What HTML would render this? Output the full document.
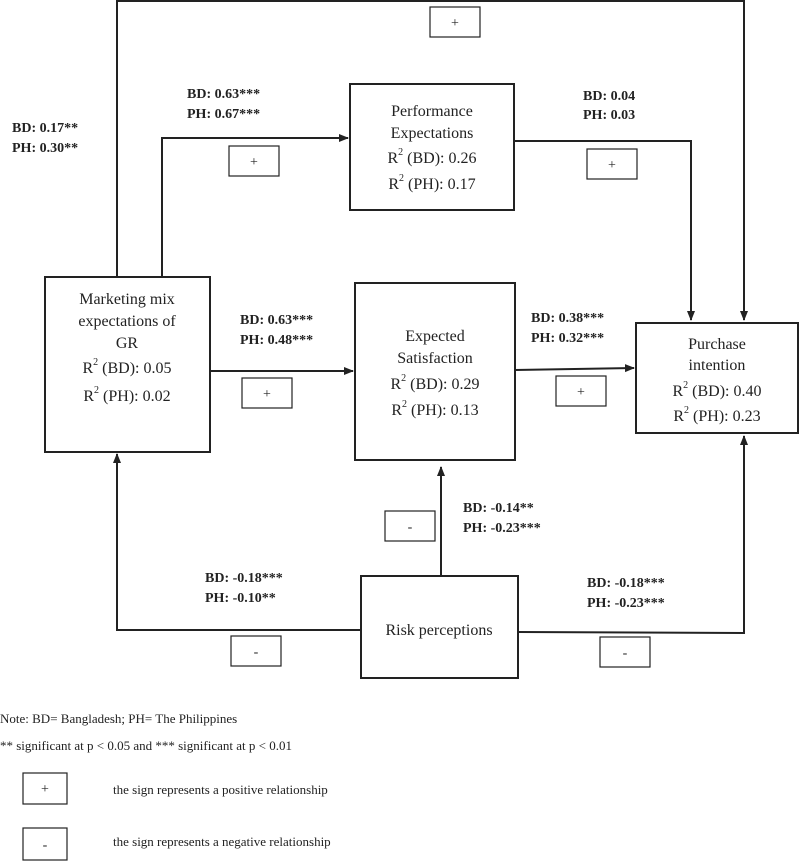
<!DOCTYPE html>
<html><head><style>body{margin:0;background:#fff}svg{display:block}
text{font-family:"Liberation Serif",serif;fill:#222}
.b{font-weight:bold;font-size:14px}
.n{font-size:16px;text-anchor:middle}
.s{font-size:14px;text-anchor:middle}
.l{font-size:13px}
</style></head><body>
<svg width="800" height="861" viewBox="0 0 800 861">
<defs><marker id="a" markerWidth="10" markerHeight="10" refX="9" refY="5" orient="auto" markerUnits="userSpaceOnUse"><path d="M0,1 L10,5 L0,9 Z" fill="#222"/></marker></defs>
<g fill="none" stroke="#222" stroke-width="2">
<rect x="45" y="277" width="165" height="175"/>
<rect x="350" y="84" width="164" height="126"/>
<rect x="355" y="283" width="160" height="177"/>
<rect x="636" y="323" width="162" height="110"/>
<rect x="361" y="576" width="157" height="102"/>
<polyline points="117,277 117,1 744,1 744,320" marker-end="url(#a)"/>
<polyline points="162,277 162,138 348,138" marker-end="url(#a)"/>
<polyline points="514,141 691,141 691,320" marker-end="url(#a)"/>
<line x1="210" y1="371" x2="353" y2="371" marker-end="url(#a)"/>
<line x1="515" y1="370" x2="634" y2="368" marker-end="url(#a)"/>
<line x1="441" y1="576" x2="441" y2="467" marker-end="url(#a)"/>
<polyline points="361,630 117,630 117,454" marker-end="url(#a)"/>
<polyline points="518,632 744,633 744,436" marker-end="url(#a)"/>
</g>
<g fill="#fff" stroke="#222" stroke-width="1.2">
<rect x="430" y="7" width="50" height="30"/>
<rect x="229" y="146" width="50" height="30"/>
<rect x="587" y="149" width="50" height="30"/>
<rect x="242" y="378" width="50" height="30"/>
<rect x="556" y="376" width="50" height="30"/>
<rect x="385" y="511" width="50" height="30"/>
<rect x="231" y="636" width="50" height="30"/>
<rect x="600" y="637" width="50" height="30"/>
<rect x="23" y="773" width="44" height="31"/>
<rect x="23" y="828" width="44" height="32"/>
</g>
<g class="s"><text x="455" y="27">+</text><text x="254" y="166">+</text><text x="612" y="169">+</text>
<text x="267" y="398">+</text><text x="581" y="396">+</text><text x="410" y="531">-</text>
<text x="256" y="656">-</text><text x="625" y="657">-</text>
<text x="45" y="793">+</text><text x="45" y="849">-</text></g>
<g class="b">
<text x="12" y="132">BD: 0.17**</text><text x="12" y="152">PH: 0.30**</text>
<text x="187" y="98">BD: 0.63***</text><text x="187" y="118">PH: 0.67***</text>
<text x="583" y="100">BD: 0.04</text><text x="583" y="119">PH: 0.03</text>
<text x="240" y="324">BD: 0.63***</text><text x="240" y="344">PH: 0.48***</text>
<text x="531" y="322">BD: 0.38***</text><text x="531" y="342">PH: 0.32***</text>
<text x="463" y="512">BD: -0.14**</text><text x="463" y="532">PH: -0.23***</text>
<text x="205" y="582">BD: -0.18***</text><text x="205" y="602">PH: -0.10**</text>
<text x="587" y="587">BD: -0.18***</text><text x="587" y="607">PH: -0.23***</text>
</g>
<g class="n">
<text x="127" y="304">Marketing mix</text>
<text x="127" y="326">expectations of</text>
<text x="127" y="348">GR</text>
<text x="127" y="373">R<tspan dy="-8" font-size="10">2</tspan><tspan dy="8"> (BD): 0.05</tspan></text>
<text x="127" y="401">R<tspan dy="-8" font-size="10">2</tspan><tspan dy="8"> (PH): 0.02</tspan></text>
<text x="432" y="116">Performance</text>
<text x="432" y="138">Expectations</text>
<text x="432" y="163">R<tspan dy="-8" font-size="10">2</tspan><tspan dy="8"> (BD): 0.26</tspan></text>
<text x="432" y="189">R<tspan dy="-8" font-size="10">2</tspan><tspan dy="8"> (PH): 0.17</tspan></text>
<text x="435" y="341">Expected</text>
<text x="435" y="363">Satisfaction</text>
<text x="435" y="389">R<tspan dy="-8" font-size="10">2</tspan><tspan dy="8"> (BD): 0.29</tspan></text>
<text x="435" y="415">R<tspan dy="-8" font-size="10">2</tspan><tspan dy="8"> (PH): 0.13</tspan></text>
<text x="717" y="349">Purchase</text>
<text x="717" y="370">intention</text>
<text x="717" y="396">R<tspan dy="-8" font-size="10">2</tspan><tspan dy="8"> (BD): 0.40</tspan></text>
<text x="717" y="421">R<tspan dy="-8" font-size="10">2</tspan><tspan dy="8"> (PH): 0.23</tspan></text>
<text x="439" y="635">Risk perceptions</text>
</g>
<g class="l">
<text x="0" y="723">Note: BD= Bangladesh; PH= The Philippines</text>
<text x="0" y="750">** significant at p &lt; 0.05 and *** significant at p &lt; 0.01</text>
<text x="113" y="794">the sign represents a positive relationship</text>
<text x="113" y="846">the sign represents a negative relationship</text>
</g>
</svg>
</body></html>
